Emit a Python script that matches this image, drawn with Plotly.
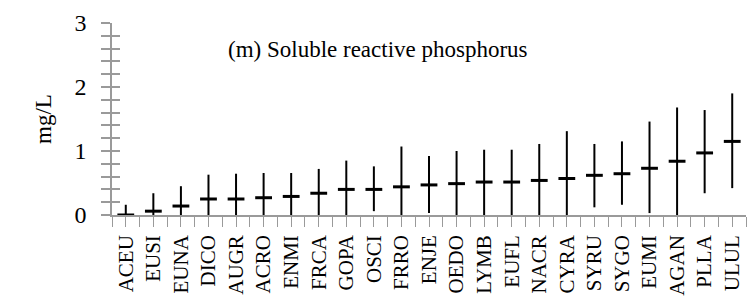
import plotly.graph_objects as go

species = ["ACEU", "EUSI", "EUNA", "DICO", "AUGR", "ACRO", "ENMI", "FRCA", "GOPA",
           "OSCI", "FRRO", "ENJE", "OEDO", "LYMB", "EUFL", "NACR", "CYRA", "SYRU",
           "SYGO", "EUMI", "AGAN", "PLLA", "ULUL"]
mean_val = [0.00, 0.06, 0.14, 0.25, 0.25, 0.27, 0.29, 0.34, 0.40, 0.40, 0.44, 0.47,
            0.49, 0.515, 0.515, 0.54, 0.57, 0.62, 0.645, 0.73, 0.84, 0.97, 1.15]
low_val = [0.00, 0.00, 0.00, 0.00, 0.00, 0.00, 0.00, 0.00, 0.00, 0.06, 0.00, 0.03,
           0.00, 0.00, 0.00, 0.00, 0.00, 0.12, 0.16, 0.03, 0.00, 0.34, 0.42]
high_val = [0.16, 0.34, 0.45, 0.63, 0.645, 0.656, 0.656, 0.72, 0.85, 0.76, 1.07, 0.92,
            1.00, 1.02, 1.02, 1.11, 1.31, 1.11, 1.15, 1.46, 1.68, 1.64, 1.90]
y_ticks = [0, 1, 2, 3]

idx = list(range(len(species)))
FONT = "Liberation Serif, Times New Roman, serif"
GRAY = "#9a9a9a"

fig = go.Figure()
fig.add_trace(go.Scatter(
    x=idx, y=mean_val, mode="markers",
    marker=dict(symbol="line-ew", size=12, color="black",
                line=dict(width=3, color="black")),
    error_y=dict(type="data", symmetric=False,
                 array=[h - m for h, m in zip(high_val, mean_val)],
                 arrayminus=[m - l for m, l in zip(mean_val, low_val)],
                 color="black", thickness=2, width=0),
    showlegend=False, hoverinfo="skip"))
fig.add_trace(go.Scatter(x=[0], y=[None], yaxis="y2", showlegend=False,
                         hoverinfo="skip", mode="markers"))

fig.update_layout(
    width=755, height=300,
    margin=dict(l=104, r=17, t=15, b=93),
    paper_bgcolor="white", plot_bgcolor="white",
    font=dict(family=FONT, color="black"),
    xaxis=dict(range=[-0.5, len(species) - 0.5], tickmode="array",
               tickvals=idx, ticktext=species, tickangle=-90, automargin=False,
               ticks="outside", ticklen=10, tickcolor=GRAY, tickwidth=1,
               minor=dict(tick0=0.5, dtick=1, ticks="outside", ticklen=10,
                          tickcolor=GRAY, tickwidth=1),
               showline=True, linecolor=GRAY, linewidth=1.5,
               showgrid=False, zeroline=False,
               tickfont=dict(family=FONT, size=21, color="black")),
    yaxis=dict(range=[0, 3], tickmode="array", tickvals=y_ticks, automargin=False,
               ticks="outside", ticklen=9, tickcolor=GRAY, tickwidth=1.5,
               minor=dict(dtick=0.2, ticks="outside", ticklen=9,
                          tickcolor=GRAY, tickwidth=1.5),
               showline=True, linecolor=GRAY, linewidth=1.5,
               showgrid=False, zeroline=False, ticklabelstandoff=10,
               tickfont=dict(family=FONT, size=24, color="black"),
               title=dict(text="mg/L", font=dict(family=FONT, size=23), standoff=16)),
    yaxis2=dict(range=[0, 3], overlaying="y", side="left", anchor="x", automargin=False,
                tickmode="array", tickvals=y_ticks,
                ticks="inside", ticklen=8, tickcolor=GRAY, tickwidth=1.5,
                minor=dict(dtick=0.2, ticks="inside", ticklen=8,
                           tickcolor=GRAY, tickwidth=1.5),
                showticklabels=False, showline=False, showgrid=False,
                zeroline=False),
    annotations=[dict(text="(m) Soluble reactive phosphorus", xref="paper", yref="paper",
                      x=0.42, y=0.86, xanchor="center", yanchor="middle",
                      showarrow=False, font=dict(family=FONT, size=23, color="black"))],
)

fig.write_html("out.html")
